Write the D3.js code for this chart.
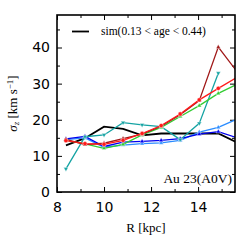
<!DOCTYPE html>
<html>
<head>
<meta charset="utf-8">
<script src="https://cdn.jsdelivr.net/npm/d3@7"></script>
<style>
  body { margin: 0; background: #fff; }
  svg { display: block; }
</style>
</head>
<body>
<div class="chart"></div>
<script>
// radial bins (kpc)
const radii = [8.38, 9.19, 10.0, 10.81, 11.62, 12.43, 13.24, 14.05, 14.86, 15.67];

const simVals      = [12.9, 14.9, 18.1, 17.5, 15.7, 16.2, 16.2, 16.2, 16.2, 13.7];
const darkRedVals  = [14.6, 13.1, 13.5, 14.8, 16.0, 18.2, 21.4, 25.3, 40.1, 33.2];
const redVals      = [14.2, 13.4, 13.2, 14.3, 16.2, 18.4, 21.6, 25.5, 28.7, 31.8];
const greenVals    = [14.3, 13.3, 12.1, 13.2, 15.8, 17.9, 20.9, 23.9, 27.3, 29.9];
const tealVals     = [6.4, 15.3, 15.8, 19.2, 18.6, 18.1, 14.5, 19.0, 32.9];
const blueVals     = [14.7, 15.4, 12.6, 13.8, 14.0, 14.3, 14.8, 16.0, 16.7, 15.0];
const lightBlueVals = [14.5, 15.0, 12.4, 13.0, 13.4, 13.6, 14.3, 16.6, 17.9, 20.2];

const xTicks = [8, 10, 12, 14];
const yTicks = [0, 10, 20, 30, 40];

const legendLabel = 'sim(0.13 < age < 0.44)';
const panelLabel = 'Au 23(A0V)';

var margin = {top: 15, right: 5, bottom: 48, left: 57},
  width = 240 - margin.left - margin.right,
  height = 240 - margin.top - margin.bottom;

var svg = d3.select('.chart')
  .append('svg')
  .attr('width', 240)
  .attr('height', 240)
  .append('g')
  .attr('transform', 'translate(' + margin.left + ',' + margin.top + ')');

var x = d3.scaleLinear().domain([8, 15.57]).range([0, width]);
var y = d3.scaleLinear().domain([0, 49]).range([height, 0]);

svg.append('clipPath').attr('id', 'clip')
  .append('rect').attr('width', width).attr('height', height);

// axes with inward ticks on all four sides
function styleAxis(g) {
  g.select('.domain').remove();
  g.selectAll('.tick line').attr('stroke', '#000').attr('stroke-width', 1);
}
var minorX = d3.range(9, 16, 2);
var minorY = d3.range(5, 50, 10);

svg.append('g').attr('transform', 'translate(0,' + height + ')')
  .call(d3.axisBottom(x).tickValues(xTicks).tickSize(-5).tickPadding(10).tickFormat(d3.format('d')))
  .call(styleAxis)
  .call(g => g.selectAll('.tick text').style('font-family', 'DejaVu Sans').style('font-size', '14px').attr('fill', '#000'));
svg.append('g').attr('transform', 'translate(0,' + height + ')')
  .call(d3.axisBottom(x).tickValues(minorX).tickSize(-3).tickFormat(''))
  .call(styleAxis);
svg.append('g')
  .call(d3.axisTop(x).tickValues(xTicks).tickSize(-5).tickFormat(''))
  .call(styleAxis);
svg.append('g')
  .call(d3.axisTop(x).tickValues(minorX).tickSize(-3).tickFormat(''))
  .call(styleAxis);

svg.append('g')
  .call(d3.axisLeft(y).tickValues(yTicks).tickSize(-5).tickPadding(7))
  .call(styleAxis)
  .call(g => g.selectAll('.tick text').style('font-family', 'DejaVu Sans').style('font-size', '14px').attr('fill', '#000'));
svg.append('g')
  .call(d3.axisLeft(y).tickValues(minorY).tickSize(-3).tickFormat(''))
  .call(styleAxis);
svg.append('g').attr('transform', 'translate(' + width + ',0)')
  .call(d3.axisRight(y).tickValues(yTicks).tickSize(-5).tickFormat(''))
  .call(styleAxis);
svg.append('g').attr('transform', 'translate(' + width + ',0)')
  .call(d3.axisRight(y).tickValues(minorY).tickSize(-3).tickFormat(''))
  .call(styleAxis);

// series
var line = d3.line()
  .x(function (d, i) { return x(radii[i]); })
  .y(function (d) { return y(d); });

var series = [
  {vals: lightBlueVals, color: '#2a8cff', marker: 'tri'},
  {vals: blueVals, color: '#0000ee', marker: 'tri'},
  {vals: tealVals, color: '#14a3a3', marker: 'tridown'},
  {vals: greenVals, color: '#33cc33', marker: 'tri'},
  {vals: darkRedVals, color: '#a01818', marker: 'tri'},
  {vals: redVals, color: '#ff1a1a', marker: 'circle'}
];

var plot = svg.append('g').attr('clip-path', 'url(#clip)');

plot.append('path')
  .datum(simVals)
  .attr('fill', 'none')
  .attr('stroke', '#000')
  .attr('stroke-width', 1.8)
  .attr('d', line);

series.forEach(function (s) {
  plot.append('path')
    .datum(s.vals)
    .attr('fill', 'none')
    .attr('stroke', s.color)
    .attr('stroke-width', 1.3)
    .attr('d', line);
  var sym = s.marker === 'circle' ? d3.symbolCircle : d3.symbolTriangle;
  plot.selectAll(null)
    .data(s.vals)
    .enter()
    .append('path')
    .attr('transform', function (d, i) {
      return 'translate(' + x(radii[i]) + ',' + y(d) + ')' + (s.marker === 'tridown' ? ' rotate(180)' : '');
    })
    .attr('d', d3.symbol().type(sym).size(s.marker === 'circle' ? 14 : 9))
    .attr('fill', s.color)
    .attr('stroke', '#fff')
    .attr('stroke-width', 0.4);
});

// frame
svg.append('rect')
  .attr('width', width)
  .attr('height', height)
  .attr('fill', 'none')
  .attr('stroke', '#000')
  .attr('stroke-width', 1.6);

// legend
svg.append('line')
  .attr('x1', 15).attr('x2', 32)
  .attr('y1', 16.5).attr('y2', 16.5)
  .attr('stroke', '#000').attr('stroke-width', 1.8);
svg.append('text')
  .attr('x', 44).attr('y', 20)
  .style('font-family', 'Liberation Serif')
  .style('font-size', '11.5px')
  .text(legendLabel);

svg.append('text')
  .attr('x', width - 3).attr('y', 168)
  .style('text-anchor', 'end')
  .style('font-family', 'Liberation Serif')
  .style('font-size', '13.5px')
  .text(panelLabel);

// axis labels
svg.append('text')
  .attr('x', width / 2)
  .attr('y', height + 40)
  .style('text-anchor', 'middle')
  .style('font-family', 'Liberation Serif')
  .style('font-size', '13px')
  .text('R [kpc]');

var yl = svg.append('text')
  .attr('transform', 'translate(' + (-40) + ',' + (height / 2) + ') rotate(-90)')
  .style('text-anchor', 'middle')
  .style('font-family', 'Liberation Serif')
  .style('font-size', '13px');
yl.append('tspan').style('font-style', 'italic').text('σ');
yl.append('tspan').attr('baseline-shift', '-25%').style('font-size', '9px').style('font-style', 'italic').text('z');
yl.append('tspan').text(' [km s');
yl.append('tspan').attr('baseline-shift', '40%').style('font-size', '9px').text('−1');
yl.append('tspan').text(']');
</script>
</body>
</html>
